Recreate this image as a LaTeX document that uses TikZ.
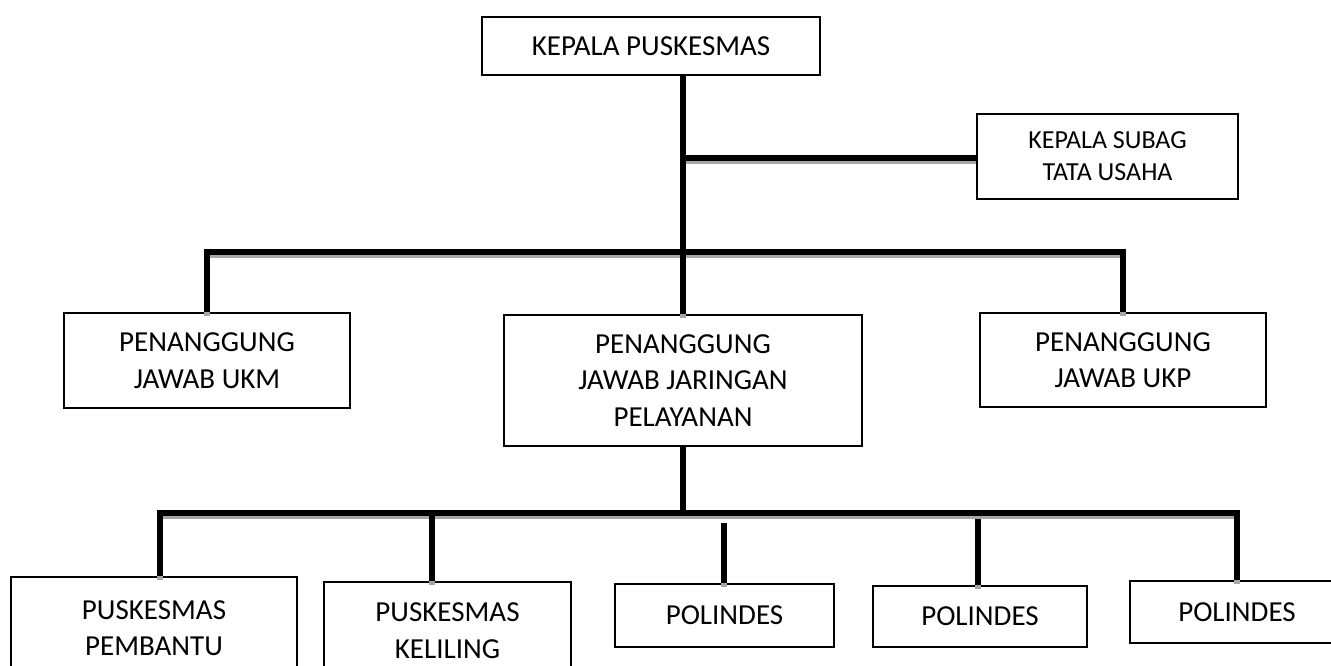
\documentclass[tikz,border=0pt]{standalone}
\usepackage{fontspec}
\setmainfont{Carlito}
\tikzset{
  box/.style={draw=black, line width=1.6pt, fill=white, inner sep=0pt, align=center,
    font=\fontsize{29}{36.5}\selectfont},
  shadowline/.style={draw=gray!70, line width=5.5pt, transform canvas={yshift=-3.5pt}},
  blackline/.style={draw=black, line width=5.5pt},
}
\newcommand\orgconnectors[1]{%
  \draw[#1] (a |- top.south) -- (a |- jar.north);
  \draw[#1] (a) -- (a -| subag.west);
  \draw[#1] (ukm.north) |- (b) -| (ukp.north);
  \draw[#1] (jar.south) -- (c);
  \draw[#1] (px |- pembantu.north) -- (px) -- (c) -| (pol3.north);
  \draw[#1] (kx) -- (kx |- keliling.north);
  \draw[#1] (d1) -- (d1 |- pol1.north);
  \draw[#1] (d2) -- (d2 |- pol2.north);
}
\begin{document}
\begin{tikzpicture}[x=1pt,y=-1pt]
\useasboundingbox (0,0) rectangle (1331,666);
\clip (0,0) rectangle (1331,666);
\fill[white] (0,0) rectangle (1331,666);

\coordinate (a) at (683,158);
\coordinate (b) at (683,252);
\coordinate (c) at (683,513);
\coordinate (px) at (160,513);
\coordinate (kx) at (432,513);
\coordinate (d1) at (724,523);
\coordinate (d2) at (978,519);

\node[box, minimum width=338pt, minimum height=58pt] (top) at (651,46) {KEPALA PUSKESMAS};
\node[box, minimum width=261pt, minimum height=85pt, font=\fontsize{26}{32}\selectfont] (subag) at (1107.5,156.5) {KEPALA SUBAG\\TATA USAHA};
\node[box, minimum width=286pt, minimum height=95pt] (ukm) at (207,360.5) {PENANGGUNG\\JAWAB UKM};
\node[box, minimum width=358pt, minimum height=131pt] (jar) at (683,380.5) {PENANGGUNG\\JAWAB JARINGAN\\PELAYANAN};
\node[box, minimum width=286pt, minimum height=94pt] (ukp) at (1123,360) {PENANGGUNG\\JAWAB UKP};

\node[box, minimum width=286pt, minimum height=102pt] (pembantu) at (154,628) {PUSKESMAS\\PEMBANTU};
\node[box, minimum width=247pt, minimum height=97pt] (keliling) at (447.5,630.5) {PUSKESMAS\\KELILING};
\node[box, minimum width=219pt, minimum height=63pt] (pol1) at (724.5,615.5) {POLINDES};
\node[box, minimum width=214pt, minimum height=61pt] (pol2) at (980,616.5) {POLINDES};
\node[box, minimum width=214pt, minimum height=62pt] (pol3) at (1237,612) {POLINDES};

\orgconnectors{shadowline}
\orgconnectors{blackline}
\end{tikzpicture}
\end{document}
